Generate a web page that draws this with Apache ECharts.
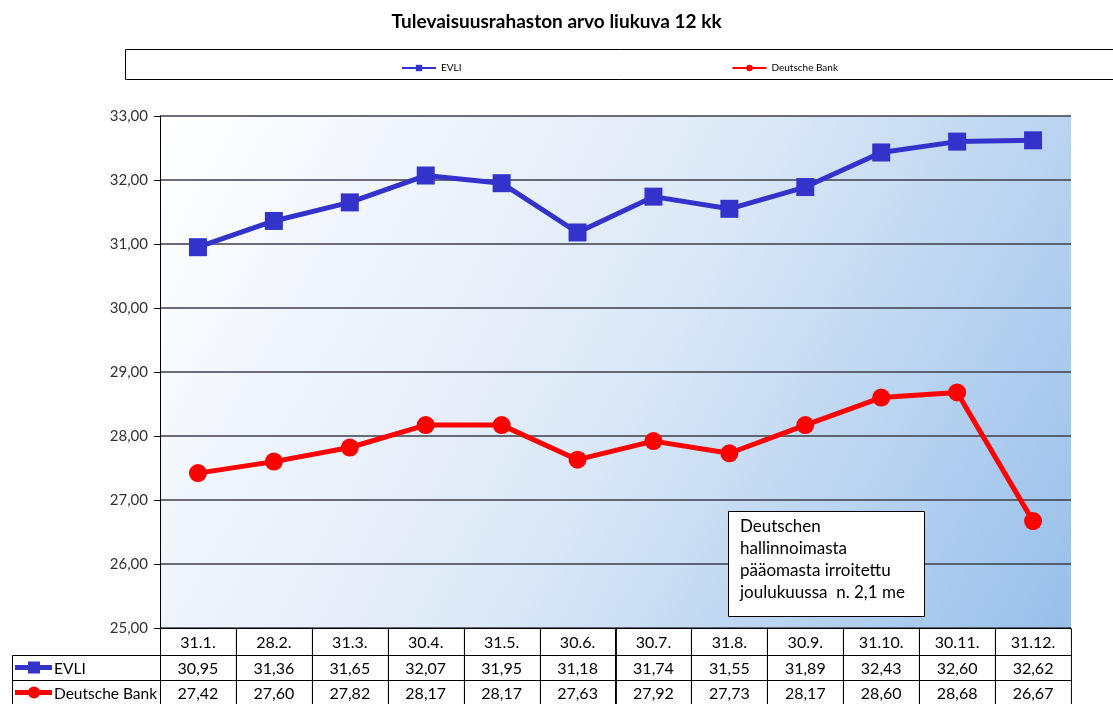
<!DOCTYPE html>
<html>
<head>
<meta charset="utf-8">
<script src="https://cdn.jsdelivr.net/npm/echarts@6/dist/echarts.min.js"></script>
<style>
  html, body { margin: 0; padding: 0; background: #fff; }
  #chart { width: 1113px; height: 704px; }
</style>
</head>
<body>
<div id="chart"></div>
<script>
// Tulevaisuusrahasto, arvo kuukausittain
const months = ['31.1.', '28.2.', '31.3.', '30.4.', '31.5.', '30.6.', '30.7.', '31.8.', '30.9.', '31.10.', '30.11.', '31.12.'];
const evli = [30.95, 31.36, 31.65, 32.07, 31.95, 31.18, 31.74, 31.55, 31.89, 32.43, 32.60, 32.62];
const deutsche = [27.42, 27.60, 27.82, 28.17, 28.17, 27.63, 27.92, 27.73, 28.17, 28.60, 28.68, 26.67];
const seriesNames = ['EVLI', 'Deutsche Bank'];
const noteLines = ['Deutschen', 'hallinnoimasta', 'pääomasta irroitettu', 'joulukuussa  n. 2,1 me'];

const BLUE = '#3333cc';
const RED = '#ff0000';
const FONT = 'Lato, "Open Sans", sans-serif';

const fmt = v => v.toFixed(2).replace('.', ',');

const chart = echarts.init(document.getElementById('chart'));

chart.setOption({
  animation: false,
  backgroundColor: '#fff',
  title: {
    text: 'Tulevaisuusrahaston arvo liukuva 12 kk',
    left: 'center',
    top: 7,
    textStyle: { fontFamily: FONT, fontSize: 19, fontWeight: 'bold', color: '#000' }
  },
  legend: {
    top: 58,
    left: 396,
    itemGap: 270,
    itemWidth: 34,
    itemHeight: 8,
    textStyle: { fontFamily: FONT, fontSize: 10, color: '#000' },
    data: seriesNames
  },
  grid: {
    left: 160, right: 42, top: 116, bottom: 76,
    show: true,
    borderWidth: 0,
    backgroundColor: new echarts.graphic.LinearGradient(0, 0, 1, 1, [
      { offset: 0, color: '#ffffff' },
      { offset: 0.5, color: '#dde9f7' },
      { offset: 1, color: '#98bfea' }
    ])
  },
  xAxis: {
    type: 'category',
    data: months,
    boundaryGap: true,
    axisLine: { show: false },
    axisTick: { show: false },
    axisLabel: { show: false }
  },
  yAxis: {
    type: 'value',
    min: 25, max: 33, interval: 1,
    axisLine: { show: true, lineStyle: { color: '#000', width: 1 } },
    axisTick: { show: true, length: 6, lineStyle: { color: '#000' } },
    axisLabel: { formatter: fmt, fontFamily: FONT, fontSize: 15, color: '#333', margin: 12 },
    splitLine: { lineStyle: { color: '#3c3c48', width: 1.5 } }
  },
  series: [
    {
      name: seriesNames[0], type: 'line', data: evli,
      symbol: 'rect', symbolSize: 18,
      lineStyle: { color: BLUE, width: 5 },
      itemStyle: { color: BLUE }
    },
    {
      name: seriesNames[1], type: 'line', data: deutsche,
      symbol: 'circle', symbolSize: 18,
      lineStyle: { color: RED, width: 5 },
      itemStyle: { color: RED }
    }
  ]
});

function buildGraphics() {
  const els = [];
  // legend frame
  els.push({ type: 'rect', shape: { x: 125.5, y: 49.5, width: 1000, height: 30 },
    style: { fill: 'none', stroke: '#000', lineWidth: 1 }, z: 0 });

  const colW = chart.convertToPixel({ xAxisIndex: 0 }, 1) - chart.convertToPixel({ xAxisIndex: 0 }, 0);
  const top = chart.convertToPixel({ yAxisIndex: 0 }, 25);
  const rowH = [27, 25, 25];
  const rowY = [top, top + rowH[0], top + rowH[0] + rowH[1]];
  const leftX = 12;
  const rows = [months, evli.map(fmt), deutsche.map(fmt)];
  const lineStyle = { stroke: '#000', lineWidth: 1 };
  const textStyle = { fontFamily: FONT, fontSize: 16, fill: '#000', align: 'center', verticalAlign: 'middle' };

  months.forEach((m, i) => {
    const cx = chart.convertToPixel({ xAxisIndex: 0 }, i);
    const x0 = Math.round(cx - colW / 2) + 0.5;
    for (let r = 0; r < 3; r++) {
      els.push({ type: 'rect', shape: { x: x0, y: rowY[r] + 0.5, width: colW, height: rowH[r] },
        style: { fill: 'none', ...lineStyle } });
      els.push({ type: 'text', x: cx, y: rowY[r] + rowH[r] / 2 + 1,
        style: { text: rows[r][i], ...textStyle } });
    }
  });

  // series label cells
  const gx = chart.convertToPixel({ xAxisIndex: 0 }, 0) - colW / 2;
  const colors = [BLUE, RED];
  for (let r = 1; r < 3; r++) {
    const y = rowY[r];
    const midY = y + rowH[r] / 2;
    els.push({ type: 'rect', shape: { x: leftX + 0.5, y: y + 0.5, width: gx - leftX, height: rowH[r] },
      style: { fill: 'none', ...lineStyle } });
    els.push({ type: 'line', shape: { x1: leftX + 3, y1: midY, x2: leftX + 40, y2: midY },
      style: { stroke: colors[r - 1], lineWidth: 5 } });
    if (r === 1) {
      els.push({ type: 'rect', shape: { x: leftX + 16, y: midY - 6, width: 12, height: 12 },
        style: { fill: BLUE } });
    } else {
      els.push({ type: 'circle', shape: { cx: leftX + 22, cy: midY, r: 6 }, style: { fill: RED } });
    }
    els.push({ type: 'text', x: leftX + 42, y: midY + 1,
      style: { text: seriesNames[r - 1], fontFamily: FONT, fontSize: 15.5, fill: '#000', verticalAlign: 'middle' } });
  }

  // note box
  els.push({ type: 'rect', shape: { x: 728.5, y: 511.5, width: 196, height: 105 },
    style: { fill: '#fff', stroke: '#000', lineWidth: 1 }, z: 10 });
  els.push({ type: 'text', x: 740, y: 516, z: 11,
    style: { text: noteLines.join('\n'), fontFamily: FONT, fontSize: 17, lineHeight: 22, fill: '#000' } });

  chart.setOption({ graphic: { elements: els } });
}

buildGraphics();
</script>
</body>
</html>
